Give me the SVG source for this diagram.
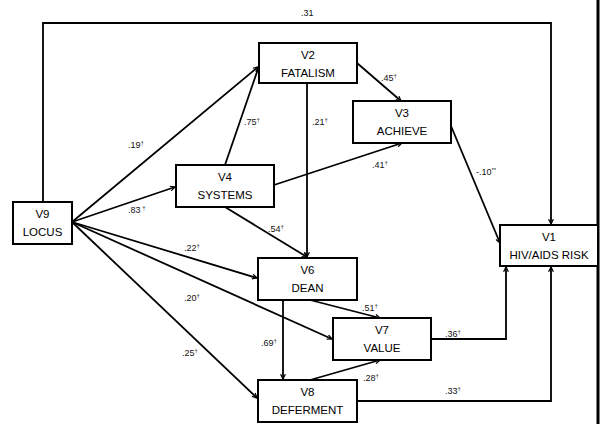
<svg xmlns="http://www.w3.org/2000/svg" width="604" height="424" viewBox="0 0 604 424">
<style>
.box{fill:#fff;stroke:#000;stroke-width:2}
.nt{font-family:"Liberation Sans",Arial,sans-serif;font-size:11.5px;fill:#000;text-anchor:middle}
.c{fill:none;stroke:#000;stroke-width:1.8}
.a{marker-end:url(#arr)}
.lb{font-family:"Liberation Sans",Arial,sans-serif;font-size:9px;fill:#111}
.sup{font-size:6px}
</style>
<defs>
<marker id="arr" viewBox="0 0 10 10" refX="9" refY="5" markerWidth="6" markerHeight="6" orient="auto" markerUnits="userSpaceOnUse">
<path d="M1,1 L9,5 L1,9" fill="none" stroke="#000" stroke-width="2"/>
</marker>
</defs>
<rect width="604" height="424" fill="#fff"/>
<line x1="598" y1="0" x2="598" y2="424" stroke="#000" stroke-width="3"/>
<g id="connectors">
<path class="c a" d="M43,202 V23 H551 V224"/>
<path class="c a" d="M72,222 L258,67"/>
<path class="c a" d="M72,222 L175,187"/>
<path class="c a" d="M72,222 L257,278"/>
<path class="c a" d="M72,222 L332,339"/>
<path class="c a" d="M72,222 L257,398"/>
<path class="c" d="M225,165 L258,69"/>
<path class="c a" d="M274,185 L402,143"/>
<path class="c a" d="M225,207 L307,257"/>
<path class="c a" d="M307,83 V257"/>
<path class="c a" d="M357,63 L401,101"/>
<path class="c a" d="M451,126 L500,243"/>
<path class="c a" d="M310,300 L380,318"/>
<path class="c a" d="M283,300 V379"/>
<path class="c a" d="M310,380 L380,360"/>
<path class="c a" d="M431,339 H506 V267"/>
<path class="c a" d="M357,401 H551 V267"/>
</g>
<g id="labels">
<text class="lb" x="301" y="16">.31</text>
<text class="lb" x="128" y="148">.19<tspan class="sup" dy="-3">†</tspan></text>
<text class="lb" x="128" y="213">.83<tspan class="sup" dy="-3"> †</tspan></text>
<text class="lb" x="184" y="251">.22<tspan class="sup" dy="-3">†</tspan></text>
<text class="lb" x="184" y="301">.20<tspan class="sup" dy="-3">†</tspan></text>
<text class="lb" x="182" y="356">.25<tspan class="sup" dy="-3">†</tspan></text>
<text class="lb" x="244" y="125">.75<tspan class="sup" dy="-3">†</tspan></text>
<text class="lb" x="312" y="125">.21<tspan class="sup" dy="-3">†</tspan></text>
<text class="lb" x="381" y="81">.45<tspan class="sup" dy="-3">†</tspan></text>
<text class="lb" x="372" y="168">.41<tspan class="sup" dy="-3">†</tspan></text>
<text class="lb" x="268" y="232">.54<tspan class="sup" dy="-3">†</tspan></text>
<text class="lb" x="476" y="175">-.10<tspan class="sup" dy="-3">**</tspan></text>
<text class="lb" x="261" y="346">.69<tspan class="sup" dy="-3">†</tspan></text>
<text class="lb" x="362" y="311">.51<tspan class="sup" dy="-3">†</tspan></text>
<text class="lb" x="445" y="337">.36<tspan class="sup" dy="-3">†</tspan></text>
<text class="lb" x="363" y="381">.28<tspan class="sup" dy="-3">†</tspan></text>
<text class="lb" x="445" y="394">.33<tspan class="sup" dy="-3">†</tspan></text>
</g>
<g id="V9"><rect class="box" x="13" y="202" width="59" height="42"/><text class="nt" x="42.5" y="218">V9</text><text class="nt" x="42.5" y="236">LOCUS</text></g>
<g id="V2"><rect class="box" x="259" y="43" width="98" height="40"/><text class="nt" x="308" y="59">V2</text><text class="nt" x="308" y="77">FATALISM</text></g>
<g id="V3"><rect class="box" x="353" y="101" width="98" height="42"/><text class="nt" x="402" y="117">V3</text><text class="nt" x="402" y="135">ACHIEVE</text></g>
<g id="V4"><rect class="box" x="176" y="165" width="98" height="42"/><text class="nt" x="225" y="181">V4</text><text class="nt" x="225" y="199">SYSTEMS</text></g>
<g id="V6"><rect class="box" x="258" y="258" width="99" height="42"/><text class="nt" x="307.5" y="274">V6</text><text class="nt" x="307.5" y="292">DEAN</text></g>
<g id="V7"><rect class="box" x="333" y="318" width="98" height="42"/><text class="nt" x="382" y="334">V7</text><text class="nt" x="382" y="352">VALUE</text></g>
<g id="V8"><rect class="box" x="258" y="380" width="99" height="42"/><text class="nt" x="307.5" y="396">V8</text><text class="nt" x="307.5" y="414">DEFERMENT</text></g>
<g id="V1"><rect class="box" x="500" y="225" width="98" height="41"/><text class="nt" x="549" y="241">V1</text><text class="nt" x="549" y="259">HIV/AIDS RISK</text></g>
</svg>
